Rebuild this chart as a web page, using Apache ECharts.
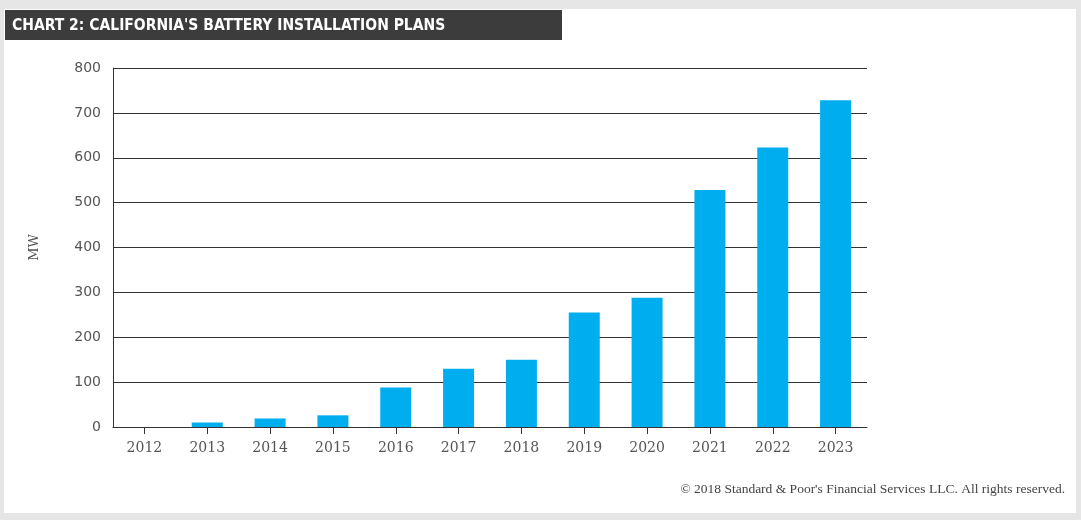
<!DOCTYPE html>
<html><head><meta charset="utf-8">
<script src="https://cdn.jsdelivr.net/npm/echarts@6/dist/echarts.min.js"></script>
<style>html,body{margin:0;padding:0;background:#e6e6e7}#c{width:1081px;height:520px}</style>
</head><body><div id="c"></div>
<script>
const titleText = "CHART 2: CALIFORNIA'S BATTERY INSTALLATION PLANS";
const yAxisName = "MW";
const sourceText = "© 2018 Standard & Poor's Financial Services LLC. All rights reserved.";
const years = ["2012","2013","2014","2015","2016","2017","2018","2019","2020","2021","2022","2023"];
const mwValues = [0, 10, 19, 26, 88, 130, 150, 255, 288, 528, 623, 728];

const chart = echarts.init(document.getElementById('c'), null, {renderer:'canvas'});
const serif = "'DejaVu Serif', 'Liberation Serif', serif";
chart.setOption({
  animation:false,
  backgroundColor:'#e6e6e7',
  graphic:[
    {type:'rect', z:-10, silent:true, shape:{x:4,y:9,width:1072,height:504}, style:{fill:'#ffffff'}},
    {type:'rect', z:-5, silent:true, shape:{x:5,y:10,width:557,height:30}, style:{fill:'#3c3c3c'}},
    {type:'text', left:12, top:18, z:5, style:{text:titleText, fill:'#ffffff', font:"bold 15.5px 'DejaVu Sans Condensed', 'Liberation Sans Narrow', 'Roboto', sans-serif"}},
    {type:'text', right:16, top:482, z:5, style:{text:sourceText, fill:'#444444', font:"13.5px 'Liberation Serif', serif"}}
  ],
  grid:{left:113, right:214, top:68, bottom:93, containLabel:false},
  xAxis:{
    type:'category', data:years, boundaryGap:true,
    axisLine:{show:true, lineStyle:{color:'#333333', width:1}},
    axisTick:{show:true, alignWithLabel:true, length:7, lineStyle:{color:'#333333'}},
    axisLabel:{color:'#555555', fontFamily:serif, fontSize:14, margin:14}
  },
  yAxis:{
    type:'value', min:0, max:800, interval:100,
    name:yAxisName, nameLocation:'middle', nameGap:72, nameRotate:90,
    nameTextStyle:{color:'#555555', fontFamily:serif, fontSize:13},
    axisLine:{show:true, lineStyle:{color:'#333333', width:1}},
    axisTick:{show:false},
    splitLine:{show:true, lineStyle:{color:'#333333', width:1}},
    axisLabel:{color:'#555555', fontFamily:"'DejaVu Sans', sans-serif", fontSize:14, margin:12}
  },
  series:[{type:'bar', data:mwValues, barWidth:31, itemStyle:{color:'#00aeef'}, z:3}]
});
</script></body></html>
